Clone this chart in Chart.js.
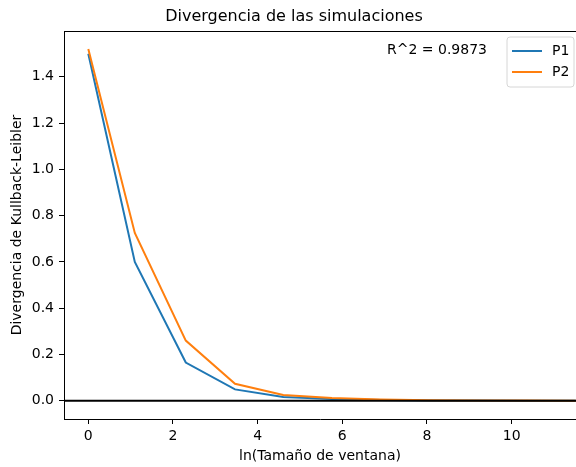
<!DOCTYPE html>
<html>
<head>
<meta charset="utf-8">
<script src="https://cdn.jsdelivr.net/npm/chart.js@4"></script>
<style>
  html, body { margin: 0; padding: 0; background: #fff; }
  #wrap { width: 576px; height: 467px; position: relative; }
</style>
</head>
<body>
<div id="wrap"><canvas id="myChart"></canvas></div>
<script>
// ln(window size) values
var xs = [0, 1.0986, 2.3026, 3.4657, 4.6052, 5.7557, 6.9078, 8.0590, 9.2103, 10.3609, 11.5129];
var p1 = [1.50, 0.60, 0.165, 0.049, 0.016, 0.007, 0.003, 0.001, 0.0005, 0.0002, 0.0001];
var p2 = [1.52, 0.725, 0.26, 0.073, 0.025, 0.012, 0.005, 0.002, 0.001, 0.0005, 0.0002];
var seriesNames = ['P1', 'P2'];
var colors = ['#1f77b4', '#ff7f0e'];
var titleText = 'Divergencia de las simulaciones';
var r2Text = 'R^2 = 0.9873';
var xLabel = 'ln(Tamaño de ventana)';
var yLabel = 'Divergencia de Kullback-Leibler';

var font = 'DejaVu Sans';

function pts(ys) {
    var out = [];
    for (var i = 0; i < xs.length; i++) out.push({x: xs[i], y: ys[i]});
    return out;
}

var data = {
    datasets: [
        {label: seriesNames[0], data: pts(p1), borderColor: colors[0], backgroundColor: colors[0], borderWidth: 2, pointRadius: 0, fill: false, order: 2},
        {label: seriesNames[1], data: pts(p2), borderColor: colors[1], backgroundColor: colors[1], borderWidth: 2, pointRadius: 0, fill: false, order: 1},
        // horizontal line at 0
        {label: 'zero', data: [{x: -5, y: 0}, {x: 20, y: 0}], borderColor: '#000', borderWidth: 2, pointRadius: 0, fill: false, order: 0}
    ]
};

// frame, title, R^2 text and matplotlib-like legend
var extras = {
    id: 'extras',
    afterDraw: function(chart) {
        var c = chart.ctx;
        var a = chart.chartArea;
        c.save();
        c.strokeStyle = '#000';
        c.lineWidth = 1;
        c.beginPath();
        c.moveTo(a.left, a.top + 0.5);
        c.lineTo(a.right, a.top + 0.5);
        c.stroke();

        c.fillStyle = '#000';
        c.textBaseline = 'middle';
        c.textAlign = 'center';
        c.font = '16px "' + font + '"';
        c.fillText(titleText, 294, 17);

        c.font = '14px "' + font + '"';
        c.textAlign = 'left';
        c.fillText(r2Text, 387, 50);

        // legend box
        var bx = 507, by = 37, bw = 67, bh = 50, r = 3;
        c.beginPath();
        c.moveTo(bx + r, by);
        c.lineTo(bx + bw - r, by);
        c.quadraticCurveTo(bx + bw, by, bx + bw, by + r);
        c.lineTo(bx + bw, by + bh - r);
        c.quadraticCurveTo(bx + bw, by + bh, bx + bw - r, by + bh);
        c.lineTo(bx + r, by + bh);
        c.quadraticCurveTo(bx, by + bh, bx, by + bh - r);
        c.lineTo(bx, by + r);
        c.quadraticCurveTo(bx, by, bx + r, by);
        c.closePath();
        c.fillStyle = 'rgba(255,255,255,0.8)';
        c.fill();
        c.strokeStyle = '#d6d6d6';
        c.stroke();

        for (var i = 0; i < 2; i++) {
            var ds = chart.data.datasets[i];
            var ly = 51 + i * 21;
            c.strokeStyle = ds.borderColor;
            c.lineWidth = 2;
            c.beginPath();
            c.moveTo(512, ly);
            c.lineTo(542, ly);
            c.stroke();
            c.fillStyle = '#000';
            c.fillText(ds.label, 552, ly);
        }
        c.restore();
    }
};

var ctx = document.getElementById('myChart').getContext('2d');
ctx.canvas.width = 576;
ctx.canvas.height = 467;

var myChart = new Chart(ctx, {
    type: 'line',
    data: data,
    options: {
        responsive: false,
        animation: false,
        layout: {padding: {top: 31, left: 0, right: 0, bottom: 0}},
        plugins: {
            legend: {display: false},
            title: {display: false},
            tooltip: {enabled: false}
        },
        scales: {
            x: {
                type: 'linear',
                min: -0.574,
                max: 11.52,
                afterFit: function(s) { s.height = 48; },
                border: {display: true, color: '#000', width: 1},
                grid: {display: true, drawOnChartArea: false, tickLength: 5, tickColor: '#000'},
                ticks: {
                    stepSize: 2,
                    includeBounds: false,
                    color: '#000',
                    padding: 4,
                    maxRotation: 0,
                    font: {family: font, size: 14},
                    callback: function(v) { return v; }
                },
                title: {display: true, text: xLabel, color: '#000', font: {family: font, size: 14}, padding: {top: 0, bottom: 2}}
            },
            y: {
                type: 'linear',
                min: -0.079,
                max: 1.598,
                afterFit: function(s) { s.width = 64; },
                border: {display: true, color: '#000', width: 1},
                grid: {display: true, drawOnChartArea: false, tickLength: 5, tickColor: '#000'},
                ticks: {
                    stepSize: 0.2,
                    includeBounds: false,
                    color: '#000',
                    padding: 5,
                    font: {family: font, size: 14},
                    callback: function(v) { return v.toFixed(1); }
                },
                title: {display: true, text: yLabel, color: '#000', font: {family: font, size: 14}, padding: {top: 9, bottom: 0}}
            }
        }
    },
    plugins: [extras]
});
</script>
</body>
</html>
